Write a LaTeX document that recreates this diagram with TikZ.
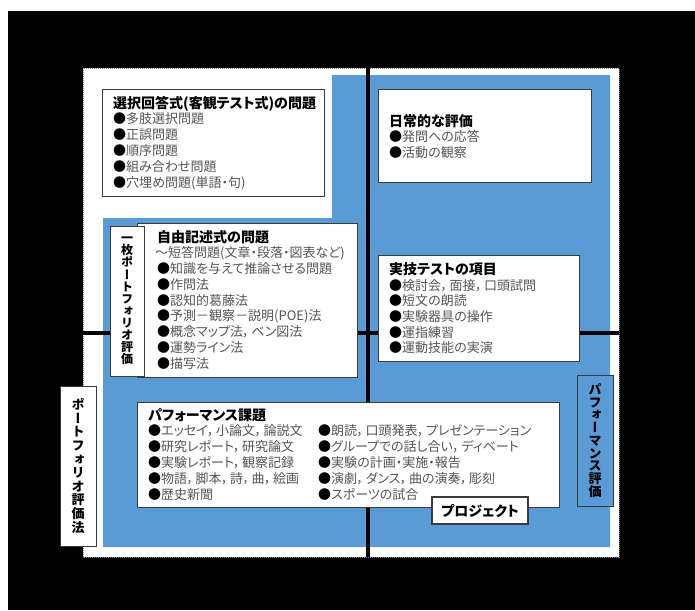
\documentclass[tikz,border=0pt]{standalone}
\usepackage{fontspec}
\usepackage{graphicx}
\setmainfont{Noto Sans CJK JP}[RawFeature=+palt]
\newfontfamily\jpv{Noto Sans CJK JP}
\newfontfamily\jpvert{Noto Sans CJK JP}[RawFeature=+vert]
\definecolor{blueA}{HTML}{5B9BD5}
\definecolor{itemgray}{HTML}{555555}
\definecolor{boxline}{HTML}{3A3A3A}
\newcommand\jbul{{\color{black}\jpv ●}}
\newcommand\jcm{，\hspace{2pt}}
\lineskiplimit=-100pt
\begin{document}
\begin{tikzpicture}[x=1pt,y=-1pt,
  box/.style={draw=boxline, line width=0.9pt, fill=white, inner sep=0pt},
  ttl/.style={anchor=base west, inner sep=0pt, font=\fontsize{14}{15}\selectfont\bfseries, text=black},
  itm/.style={anchor=base west, inner sep=0pt, font=\fontsize{13}{15}\selectfont, text=itemgray},
  vtxt/.style={align=center, text=black}]
\useasboundingbox (0,0) rectangle (695,610);
% background
\fill[white] (0,0) rectangle (695,610);
\fill[black] (8,11) rectangle (695,610);
\fill[white] (83,68) rectangle (619,557);
\draw[gray, line width=0.6pt, dash pattern=on 1pt off 1pt] (83,68) rectangle (619,557);
\fill[blueA] (103,218) -- (332,218) -- (332,75) -- (610,75) -- (610,547) -- (103,547) -- cycle;
% axes
\draw[black, line width=3.5pt] (368,68) -- (368,557);
\draw[black, line width=3.5pt] (83,333) -- (619,333);

% box 1
\node[box, anchor=north west, minimum width=222pt, minimum height=107pt] (b1) at (102,89) {};
\node[ttl] (b1t) at (113,108) {選択回答式(客観テスト式)の問題};
\foreach \t [count=\i] in {多肢選択問題, 正誤問題, 順序問題, 組み合わせ問題, 穴埋め問題(単語・句)}
  \node[itm] (b1-\i) at (113,108+15.8*\i) {\jbul\t};

% box 2
\node[box, anchor=north west, minimum width=213pt, minimum height=93pt] (b2) at (378,89) {};
\node[ttl] (b2t) at (389,126) {日常的な評価};
\foreach \t [count=\i] in {発問への応答, 活動の観察}
  \node[itm] (b2-\i) at (389,126+15.8*\i) {\jbul\t};

% box 3
\node[box, anchor=north west, minimum width=201pt, minimum height=106pt] (b3) at (378,255) {};
\node[ttl] (b3t) at (389,274.3) {実技テストの項目};
\foreach \t [count=\i] in {検討会\jcm 面接\jcm 口頭試問, 短文の朗読, 実験器具の操作, 運指練習, 運動技能の実演}
  \node[itm] (b3-\i) at (389,274.3+15.7*\i) {\jbul\t};

% box 4
\node[box, anchor=north west, minimum width=220pt, minimum height=154pt] (b4) at (137,223) {};
\node[ttl] (b4t) at (157,242) {自由記述式の問題};
\node[itm] (b4-1) at (155,242+15.75) {～短答問題(文章・段落・図表など)};
\foreach \t [count=\i from 2] in {知識を与えて推論させる問題, 作問法, 認知的葛藤法, 予測－観察－説明(POE)法, 概念マップ法\jcm ベン図法, 運勢ライン法, 描写法}
  \node[itm] (b4-\i) at (157,242+15.75*\i) {\jbul\t};
\node[box, vtxt, minimum width=34pt, minimum height=150pt,
  font=\jpvert\fontsize{12}{12.1}\selectfont\bfseries] (v1) at (127,301)
  {一\\枚\\ポ\\ー\\ト\\フ\\ォ\\リ\\オ\\評\\価};

% box 5
\node[box, anchor=north west, minimum width=422pt, minimum height=105pt] (b5) at (137,402) {};
\node[ttl] (b5t) at (148,420) {パフォーマンス課題};
\foreach \t [count=\i] in {エッセイ\jcm 小論文\jcm 論説文, 研究レポート\jcm 研究論文, 実験レポート\jcm 観察記録, 物語\jcm 脚本\jcm 詩\jcm 曲\jcm 絵画, 歴史新聞}
  \node[itm] (b5a-\i) at (148,420+15.8*\i) {\jbul\t};
\foreach \t [count=\i] in {朗読\jcm 口頭発表\jcm プレゼンテーション, グループでの話し合い\jcm ディベート, 実験の計画・実施・報告, 演劇\jcm ダンス\jcm 曲の演奏\jcm 彫刻, スポーツの試合}
  \node[itm] (b5b-\i) at (318,420+15.8*\i) {\jbul\t};
\node[box, line width=1.5pt, minimum width=96pt, minimum height=27pt,
  font=\fontsize{14}{15}\selectfont\bfseries] (proj) at (480,510.5) {プロジェクト};

% side labels
\node[box, vtxt, minimum width=36pt, minimum height=160pt,
  font=\jpvert\fontsize{13}{13.6}\selectfont\bfseries] (v2) at (78,466)
  {ポ\\ー\\ト\\フ\\ォ\\リ\\オ\\評\\価\\法};
\node[box, vtxt, fill=blueA, minimum width=36pt, minimum height=131pt,
  font=\jpvert\fontsize{13}{12.75}\selectfont\bfseries] (v3) at (595,440.5)
  {パ\\フ\\ォ\\ー\\マ\\ン\\ス\\評\\価};
\end{tikzpicture}
\end{document}
